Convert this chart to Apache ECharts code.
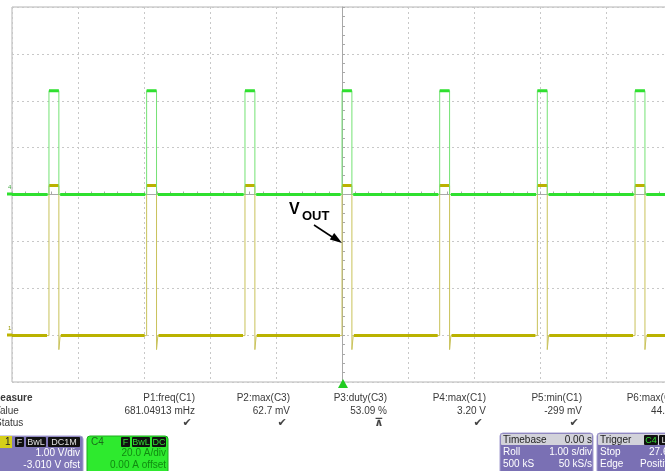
<!DOCTYPE html>
<html>
<head>
<meta charset="utf-8">
<script src="https://cdn.jsdelivr.net/npm/echarts@6/dist/echarts.min.js"></script>
<style>
  html, body { margin: 0; padding: 0; background: #fff; }
  #scope { width: 665px; height: 471px; }
</style>
</head>
<body>
<div id="scope"></div>
<script>
// rising edges of the pulses (s, trigger at centre)
const pulseRise = [-4.44, -2.96, -1.47, 0.0, 1.48, 2.96, 4.44];
const pulseWidth = [0.15, 0.15, 0.15, 0.15, 0.15, 0.15, 0.15];
// C4 current (A): base, peak
const c4Levels = [0, 44.3];
// C1 Vout (V): base, high, undershoot
const c1Levels = [0, 3.2, -0.299];

// measurement table
const measNames = ['P1:freq(C1)', 'P2:max(C3)', 'P3:duty(C3)', 'P4:max(C1)', 'P5:min(C1)', 'P6:max(C4)'];
const measValues = ['681.04913 mHz', '62.7 mV', '53.09 %', '3.20 V', '-299 mV', '44.3 A'];
const measStatus = ['✔', '✔', '⊼', '✔', '✔', '✔'];

const font = 'Liberation Sans, Arial, sans-serif';

// build waveform points
function c4Trace() {
  const d = [[-5, c4Levels[0]]];
  pulseRise.forEach((t, i) => {
    const w = pulseWidth[i];
    d.push([t, c4Levels[0]], [t, c4Levels[1]], [t + w, c4Levels[1]], [t + w, c4Levels[0]]);
  });
  d.push([5, c4Levels[0]]);
  return d;
}
function c4Flat() {
  const d = [];
  let from = -5;
  pulseRise.forEach((t, i) => {
    const w = pulseWidth[i];
    d.push([from, c4Levels[0]], [t - 0.02, c4Levels[0]], [t, '-']);
    d.push([t, c4Levels[1]], [t + w, c4Levels[1]], [t + w, '-']);
    from = t + w + 0.02;
  });
  d.push([from, c4Levels[0]], [5, c4Levels[0]]);
  return d;
}
function c1Trace() {
  const d = [[-5, c1Levels[0]]];
  pulseRise.forEach((t, i) => {
    const w = pulseWidth[i];
    d.push([t, c1Levels[0]], [t, c1Levels[1]], [t + w, c1Levels[1]],
      [t + w, c1Levels[2]], [t + w + 0.02, c1Levels[0]]);
  });
  d.push([5, c1Levels[0]]);
  return d;
}
function c1Flat() {
  const d = [];
  let from = -5;
  pulseRise.forEach((t, i) => {
    const w = pulseWidth[i];
    d.push([from, c1Levels[0]], [t - 0.03, c1Levels[0]], [t, '-']);
    d.push([t, c1Levels[1]], [t + w, c1Levels[1]], [t + w, '-']);
    from = t + w + 0.03;
  });
  d.push([from, c1Levels[0]], [5, c1Levels[0]]);
  return d;
}

function txt(text, x, y, opt) {
  return {
    type: 'text',
    silent: true,
    z: 100,
    style: Object.assign({
      text: text, x: x, y: y,
      fill: '#3a3a3a',
      font: '10px ' + font,
      textAlign: 'left',
      textVerticalAlign: 'middle'
    }, opt || {})
  };
}
function box(x, y, w, h, fill, stroke, r) {
  return {
    type: 'rect', silent: true, z: 90,
    shape: { x: x, y: y, width: w, height: h, r: r || 0 },
    style: { fill: fill, stroke: stroke || null, lineWidth: 1 }
  };
}
function tag(text, x, y, w, color) {
  return [
    box(x, y, w, 10, '#111', null, 1),
    txt(text, x + w / 2, y + 5.3, { fill: color, textAlign: 'center', font: '9px ' + font })
  ];
}

const gridStyle = { color: '#c8c8c8', type: [2, 3], width: 1 };
const centreStyle = { color: '#a8a8a8', width: 1 };

// measurement table text
const graphics = [];
graphics.push(txt('Measure', -8, 398, { font: 'bold 10px ' + font }));
graphics.push(txt('Value', -6, 411));
graphics.push(txt('Status', -5, 423));
const colRight = [195, 290, 387, 486, 582, 680];
measNames.forEach((n, i) => {
  graphics.push(txt(n, colRight[i], 398, { textAlign: 'right' }));
  graphics.push(txt(measValues[i], colRight[i], 411, { textAlign: 'right' }));
  graphics.push(txt(measStatus[i], colRight[i] - 8, 423, { textAlign: 'center', font: 'bold 11px DejaVu Sans', fill: '#444' }));
});

// C1 channel box
graphics.push(box(-4, 436, 87, 40, '#8077b8', '#a59fd0', 3));
graphics.push(box(-4, 436, 16, 12, '#d6cf1a', null, 0));
graphics.push(txt('1', 5, 442, { font: '10px ' + font, fill: '#222' }));
graphics.push(...tag('F', 15, 437, 9, '#e0e0e0'));
graphics.push(...tag('BwL', 26, 437, 20, '#e0e0e0'));
graphics.push(...tag('DC1M', 48, 437, 32, '#e0e0e0'));
graphics.push(txt('1.00 V/div', 80, 453, { textAlign: 'right', fill: '#fff' }));
graphics.push(txt('-3.010 V ofst', 80, 465, { textAlign: 'right', fill: '#fff' }));

// C4 channel box
graphics.push(box(87, 436, 81, 40, '#2eea2e', '#1cae1c', 3));
graphics.push(txt('C4', 91, 442, { font: '10px ' + font, fill: '#1b6b1b' }));
graphics.push(...tag('F', 121, 437, 9, '#33dd33'));
graphics.push(...tag('BwL', 132, 437, 18, '#33dd33'));
graphics.push(...tag('DC', 152, 437, 14, '#33dd33'));
graphics.push(txt('20.0 A/div', 166, 453, { textAlign: 'right', fill: '#118a11' }));
graphics.push(txt('0.00 A offset', 166, 465, { textAlign: 'right', fill: '#118a11' }));

// Timebase box
graphics.push(box(500, 433, 93, 42, '#7a70b4', '#a59fd0', 3));
graphics.push(box(501, 434, 91, 11, '#d2d2da', null, 1));
graphics.push(txt('Timebase', 503, 440, { fill: '#222' }));
graphics.push(txt('0.00 s', 592, 440, { textAlign: 'right', fill: '#222' }));
graphics.push(txt('Roll', 503, 452, { fill: '#fff' }));
graphics.push(txt('1.00 s/div', 592, 452, { textAlign: 'right', fill: '#fff' }));
graphics.push(txt('500 kS', 503, 464, { fill: '#fff' }));
graphics.push(txt('50 kS/s', 592, 464, { textAlign: 'right', fill: '#fff' }));

// Trigger box
graphics.push(box(597, 433, 80, 42, '#7a70b4', '#a59fd0', 3));
graphics.push(box(598, 434, 78, 11, '#d2d2da', null, 1));
graphics.push(txt('Trigger', 600, 440, { fill: '#222' }));
graphics.push(...tag('C4', 644, 435, 14, '#33dd33'));
graphics.push(...tag('L', 659, 435, 10, '#e0e0e0'));
graphics.push(txt('Stop', 600, 452, { fill: '#fff' }));
graphics.push(txt('27.6 A', 649, 452, { fill: '#fff' }));
graphics.push(txt('Edge', 600, 464, { fill: '#fff' }));
graphics.push(txt('Positive', 640, 464, { fill: '#fff' }));

// channel markers at left edge
graphics.push({ type: 'line', silent: true, z: 50, shape: { x1: 7, y1: 194, x2: 12, y2: 194 }, style: { stroke: '#2fe02f', lineWidth: 3 } });
graphics.push({ type: 'line', silent: true, z: 50, shape: { x1: 7, y1: 335, x2: 12, y2: 335 }, style: { stroke: '#bdb400', lineWidth: 3 } });
graphics.push(txt('4', 8, 187, { font: '6px ' + font, fill: '#44aa44' }));
graphics.push(txt('1', 8, 328, { font: '6px ' + font, fill: '#999900' }));

// trigger marker
graphics.push({ type: 'polygon', silent: true, z: 60, shape: { points: [[343, 379], [338, 388], [348, 388]] }, style: { fill: '#22cc22' } });

// VOUT annotation
graphics.push(txt('V', 289, 210, { font: 'bold 16px ' + font, fill: '#000' }));
graphics.push(txt('OUT', 302, 216.5, { font: 'bold 13px ' + font, fill: '#000' }));
graphics.push({ type: 'line', silent: true, z: 100, shape: { x1: 314, y1: 225, x2: 333, y2: 237.5 }, style: { stroke: '#000', lineWidth: 1.5 } });
graphics.push({ type: 'polygon', silent: true, z: 100, shape: { points: [[342, 243], [329.8, 239.6], [334.2, 233]] }, style: { fill: '#000' } });

const chart = echarts.init(document.getElementById('scope'));
chart.setOption({
  animation: false,
  backgroundColor: '#fff',
  grid: {
    left: 12, top: 7, width: 660, height: 375,
    outerBoundsMode: 'none',
    show: true, borderColor: '#b4b4b4', borderWidth: 1
  },
  xAxis: {
    type: 'value', min: -5, max: 5, interval: 1,
    axisLabel: { show: false },
    axisLine: { show: true, onZero: true, onZeroAxisIndex: 0, lineStyle: centreStyle },
    axisTick: { show: true, inside: true, length: 3, lineStyle: centreStyle },
    minorTick: { show: true, splitNumber: 5, length: 3, lineStyle: centreStyle },
    splitLine: { show: true, lineStyle: gridStyle }
  },
  yAxis: [
    {
      type: 'value', min: -80, max: 80, interval: 20,
      axisLabel: { show: false },
      axisLine: { show: true, onZero: true, lineStyle: centreStyle },
      axisTick: { show: true, inside: true, length: 3, lineStyle: centreStyle },
      minorTick: { show: true, splitNumber: 5, length: 3, lineStyle: centreStyle },
      splitLine: { show: true, lineStyle: gridStyle }
    },
    { type: 'value', min: -0.99, max: 7.01, show: false, splitLine: { show: false } }
  ],
  series: [
    {
      name: 'C1 edges', type: 'line', yAxisIndex: 1, data: c1Trace(), showSymbol: false, silent: true,
      lineStyle: { color: '#c9c25a', width: 1 }, z: 3
    },
    {
      name: 'C1', type: 'line', yAxisIndex: 1, data: c1Flat(), showSymbol: false, silent: true, connectNulls: false,
      lineStyle: { color: '#bab200', width: 3 }, z: 4
    },
    {
      name: 'C4 edges', type: 'line', yAxisIndex: 0, data: c4Trace(), showSymbol: false, silent: true,
      lineStyle: { color: '#74e274', width: 1 }, z: 5
    },
    {
      name: 'C4', type: 'line', yAxisIndex: 0, data: c4Flat(), showSymbol: false, silent: true, connectNulls: false,
      lineStyle: { color: '#2fe02f', width: 3 }, z: 6
    }
  ],
  graphic: graphics
});
</script>
</body>
</html>
